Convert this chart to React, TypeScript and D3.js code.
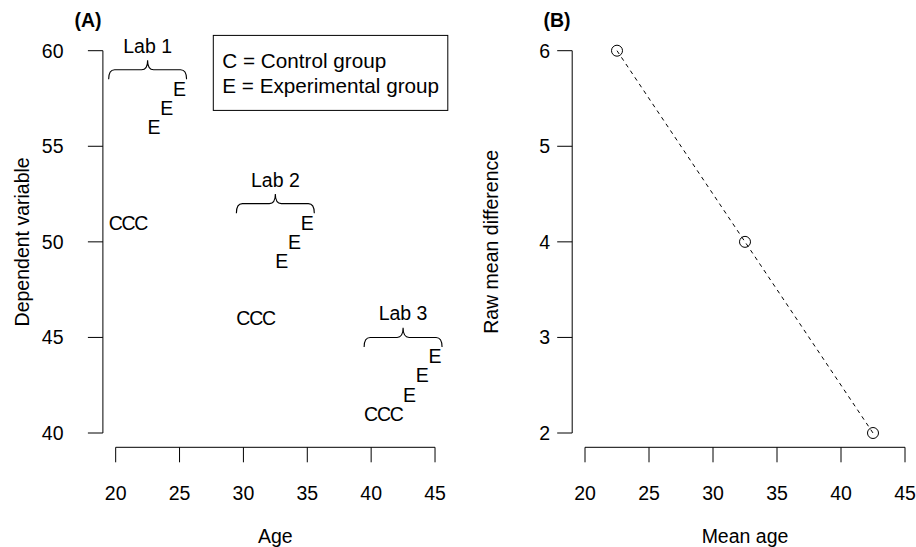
import React from 'react';
import * as d3 from 'd3';

// data
const labNames = ['Lab 1', 'Lab 2', 'Lab 3'];
const controlAges = [[20, 21, 22], [30, 31, 32], [40, 41, 42]];
const controlScores = [[51, 51, 51], [46, 46, 46], [41, 41, 41]];
const expAges = [[23, 24, 25], [33, 34, 35], [43, 44, 45]];
const expScores = [[56, 57, 58], [49, 50, 51], [42, 43, 44]];
const meanAges = [22.5, 32.5, 42.5];
const meanDiffs = [6, 4, 2];
const ageTicks = [20, 25, 30, 35, 40, 45];
const depTicks = [40, 45, 50, 55, 60];
const diffTicks = [2, 3, 4, 5, 6];
const legendLabels = ['C = Control group', 'E = Experimental group'];

const FONT = '"Liberation Sans", Arial, Helvetica, sans-serif';
const FS = 19.5;
const TICK = 15;

// R-style plot regions (4% padding around the axis range)
const top = 35.4, bottom = 448.3;

const xA = d3.scaleLinear().domain([19, 46]).range([102.9, 447.8]);
const yA = d3.scaleLinear().domain([39.2, 60.8]).range([bottom, top]);
const xB = d3.scaleLinear().domain([19, 46]).range([572.2, 917.8]);
const yB = d3.scaleLinear().domain([1.84, 6.16]).range([bottom, top]);

// curly brace opening downwards, tip pointing up
function brace(x0: number, x1: number, yb: number, yt: number) {
  const yl = (yb + yt) / 2;
  const xm = (x0 + x1) / 2;
  const r = 6;
  return `M${x0},${yb} Q${x0},${yl} ${x0 + r},${yl} L${xm - r},${yl} Q${xm},${yl} ${xm},${yt}` +
    ` Q${xm},${yl} ${xm + r},${yl} L${x1 - r},${yl} Q${x1},${yl} ${x1},${yb}`;
}

const XAxis = ({ x, title }: { x: d3.ScaleLinear<number, number>; title: string }) => {
  const y0 = 447.3;
  const [r0, r1] = x.range();
  return (
    <g>
      <line x1={x(ageTicks[0])} x2={x(ageTicks[ageTicks.length - 1])} y1={y0} y2={y0} stroke="#000" />
      {ageTicks.map(t => (
        <g key={t}>
          <line x1={x(t)} x2={x(t)} y1={y0} y2={y0 + TICK} stroke="#000" />
          <text x={x(t)} y={493.3} dy="0.35em" textAnchor="middle">{t}</text>
        </g>
      ))}
      <text x={(r0 + r1) / 2} y={536} dy="0.35em" textAnchor="middle">{title}</text>
    </g>
  );
};

const YAxis = ({ y, x0, ticks, labelRight, titleX, title }:
  { y: d3.ScaleLinear<number, number>; x0: number; ticks: number[]; labelRight: number; titleX: number; title: string }) => (
  <g>
    <line x1={x0} x2={x0} y1={y(ticks[0])} y2={y(ticks[ticks.length - 1])} stroke="#000" />
    {ticks.map(t => (
      <g key={t}>
        <line x1={x0 - TICK} x2={x0} y1={y(t)} y2={y(t)} stroke="#000" />
        <text x={labelRight} y={y(t)} dy="0.35em" textAnchor="end">{t}</text>
      </g>
    ))}
    <text transform={`translate(${titleX},${(top + bottom) / 2}) rotate(-90)`} dy="0.35em" textAnchor="middle">{title}</text>
  </g>
);

export default function App() {
  const line = d3.line<number>().x((d, i) => xB(meanAges[i])).y(d => yB(d));
  const legendRight = xA.range()[1];
  const legendLeft = 213.3;
  const rowH = 25;

  return (
    <svg width={916} height={547} style={{ position: 'absolute', left: 0, top: 0 }}
      fontFamily={FONT} fontSize={FS} fill="#000">
      {/* Panel A */}
      <text x={88} y={20} dy="0.35em" textAnchor="middle" fontWeight="bold">(A)</text>
      <XAxis x={xA} title="Age" />
      <YAxis y={yA} x0={102.9} ticks={depTicks} labelRight={63.5} titleX={21.7} title="Dependent variable" />

      {labNames.map((lab, i) => {
        const ages = controlAges[i].concat(expAges[i]);
        const lo = d3.min(ages)!, hi = d3.max(ages)!;
        const hiScore = d3.max(expScores[i])!;
        return (
          <g key={lab}>
            {controlAges[i].map((a, j) => (
              <text key={'c' + j} x={xA(a)} y={yA(controlScores[i][j])} dy="0.35em" textAnchor="middle">C</text>
            ))}
            {expAges[i].map((a, j) => (
              <text key={'e' + j} x={xA(a)} y={yA(expScores[i][j])} dy="0.35em" textAnchor="middle">E</text>
            ))}
            <path d={brace(xA(lo - 0.55), xA(hi + 0.55), yA(hiScore + 0.5), yA(hiScore + 1.5))}
              fill="none" stroke="#000" strokeWidth={1.1} />
            <text x={xA((lo + hi) / 2)} y={yA(hiScore + 2.25)} dy="0.35em" textAnchor="middle">{lab}</text>
          </g>
        );
      })}

      <rect x={legendLeft} y={top} width={legendRight - legendLeft} height={rowH * 3}
        fill="none" stroke="#000" />
      {legendLabels.map((l, i) => (
        <text key={l} x={legendLeft + 9} y={top + rowH * (i + 1)} dy="0.35em" fontSize={20.7}>{l}</text>
      ))}

      {/* Panel B */}
      <text x={557} y={20} dy="0.35em" textAnchor="middle" fontWeight="bold">(B)</text>
      <XAxis x={xB} title="Mean age" />
      <YAxis y={yB} x0={572.2} ticks={diffTicks} labelRight={550} titleX={491} title="Raw mean difference" />
      <path d={line(meanDiffs)!} fill="none" stroke="#000" strokeDasharray="4,4" />
      {meanDiffs.map((d, i) => (
        <circle key={i} cx={xB(meanAges[i])} cy={yB(d)} r={5.5} fill="none" stroke="#000" />
      ))}
    </svg>
  );
}
